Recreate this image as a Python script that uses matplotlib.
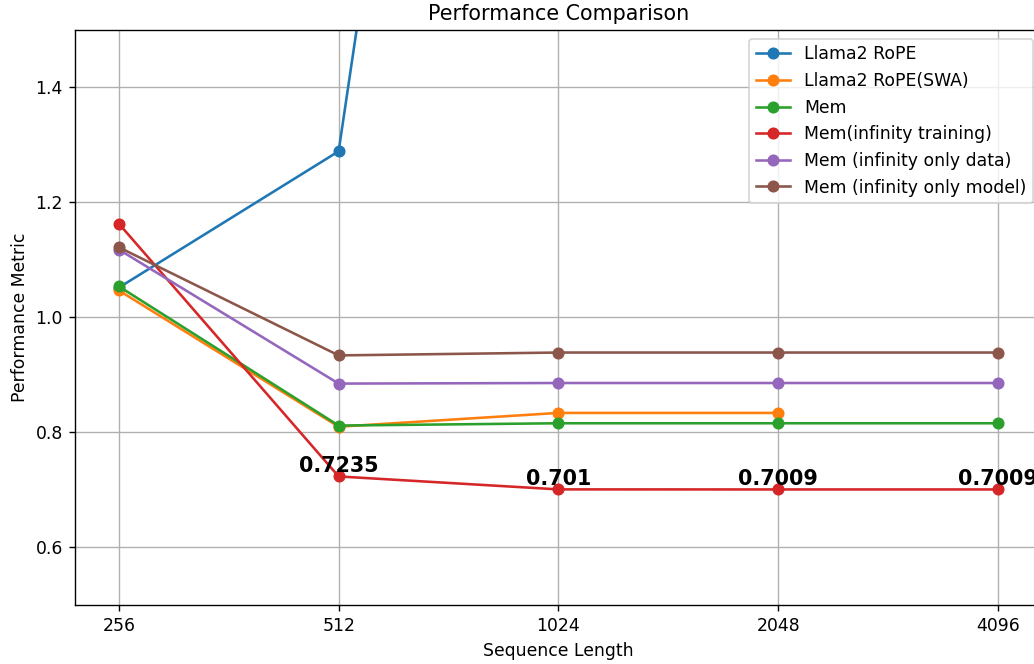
import matplotlib
matplotlib.use("Agg")
import matplotlib.pyplot as plt

seq_lens = ["256", "512", "1024", "2048", "4096"]

llama_rope = [1.052, 1.289, 3.87, 6.5, 8.0]
llama_rope_swa = [1.047, 0.810, 0.834, 0.834]
mem = [1.054, 0.812, 0.816, 0.816, 0.816]
mem_inf_train = [1.163, 0.7235, 0.701, 0.7009, 0.7009]
mem_inf_data = [1.118, 0.885, 0.886, 0.886, 0.886]
mem_inf_model = [1.122, 0.934, 0.939, 0.939, 0.939]

dpi = 124
fig = plt.figure(figsize=(1034 / dpi, 664 / dpi), dpi=dpi)
ax = fig.add_axes([0.0725, 0.0889, 0.935, 0.866])

x = list(range(len(seq_lens)))
ax.plot(x, llama_rope, marker="o", label="Llama2 RoPE")
ax.plot(x[:len(llama_rope_swa)], llama_rope_swa, marker="o", label="Llama2 RoPE(SWA)")
ax.plot(x, mem, marker="o", label="Mem")
ax.plot(x, mem_inf_train, marker="o", label="Mem(infinity training)")
ax.plot(x, mem_inf_data, marker="o", label="Mem (infinity only data)")
ax.plot(x, mem_inf_model, marker="o", label="Mem (infinity only model)")

# label the infinity-training values after the first point
for i in x[1:]:
    ax.text(i, mem_inf_train[i], str(mem_inf_train[i]), ha="center", va="bottom",
            fontsize=12, fontweight="bold")

ax.set_xticks(x)
ax.set_xticklabels(seq_lens)
ax.set_xlim(-0.2, 4.2)
ax.set_ylim(0.5, 1.5)
ax.set_title("Performance Comparison")
ax.set_xlabel("Sequence Length")
ax.set_ylabel("Performance Metric")
ax.grid(True)
ax.legend(loc="upper right")

fig.savefig("out.png", dpi=dpi)
